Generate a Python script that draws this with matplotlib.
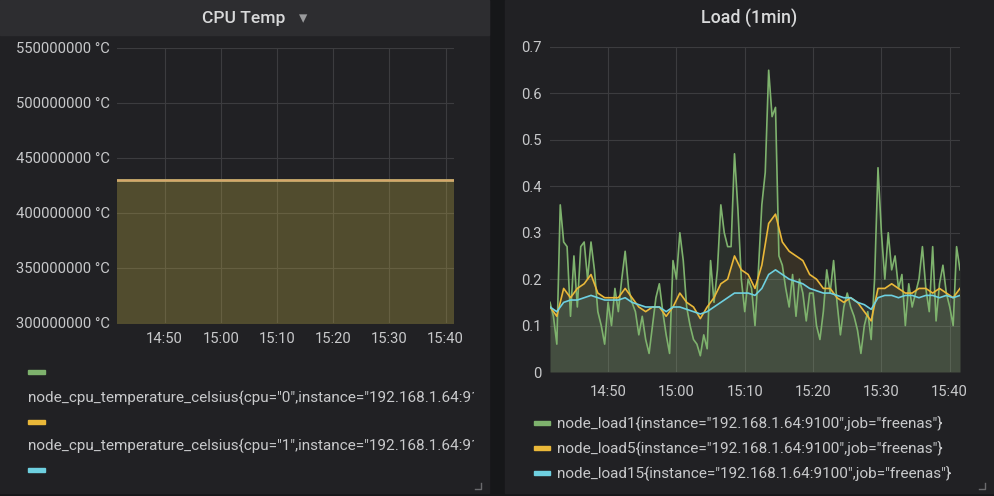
import numpy as np
import pandas as pd
import matplotlib
matplotlib.use("Agg")
import matplotlib.pyplot as plt
import matplotlib.dates as mdates
from matplotlib.patches import Rectangle
from matplotlib.ticker import FixedLocator, FuncFormatter

plt.rcParams['font.family'] = ['Roboto', 'DejaVu Sans']

# ---- data ----
t_start = "2019-01-01 14:41:30"
t_end = "2019-01-01 15:41:30"

# load1, one sample every 30 s from 14:41:30
load1 = [0.15, 0.12, 0.06, 0.36, 0.28, 0.27, 0.12, 0.25, 0.14, 0.27,
         0.28, 0.20, 0.28, 0.22, 0.13, 0.10, 0.06, 0.15, 0.10, 0.18,
         0.13, 0.20, 0.26, 0.18, 0.15, 0.13, 0.08, 0.12, 0.07, 0.04,
         0.10, 0.16, 0.19, 0.13, 0.08, 0.04, 0.24, 0.20, 0.30, 0.24,
         0.14, 0.10, 0.07, 0.06, 0.035, 0.08, 0.05, 0.24, 0.15, 0.22,
         0.36, 0.30, 0.27, 0.27, 0.47, 0.35, 0.20, 0.13, 0.20, 0.18,
         0.10, 0.22, 0.36, 0.43, 0.65, 0.55, 0.57, 0.25, 0.23, 0.18,
         0.14, 0.21, 0.12, 0.20, 0.17, 0.11, 0.17, 0.17, 0.10, 0.07,
         0.13, 0.22, 0.17, 0.24, 0.15, 0.08, 0.14, 0.17, 0.14, 0.12,
         0.09, 0.04, 0.10, 0.13, 0.07, 0.20, 0.44, 0.30, 0.20, 0.30,
         0.22, 0.25, 0.18, 0.21, 0.10, 0.19, 0.14, 0.17, 0.20, 0.27,
         0.18, 0.13, 0.27, 0.11, 0.19, 0.23, 0.17, 0.14, 0.10, 0.27,
         0.22]

# load5 / load15, one sample per minute from 14:41:30
load5 = [0.14, 0.12, 0.18, 0.16, 0.18, 0.19, 0.21, 0.17, 0.16, 0.16,
         0.16, 0.18, 0.16, 0.14, 0.13, 0.14, 0.14, 0.12, 0.14, 0.17,
         0.15, 0.14, 0.115, 0.14, 0.16, 0.19, 0.20, 0.25, 0.22, 0.21,
         0.18, 0.23, 0.32, 0.34, 0.28, 0.26, 0.25, 0.24, 0.21, 0.20,
         0.18, 0.18, 0.16, 0.15, 0.16, 0.15, 0.13, 0.11, 0.18, 0.18,
         0.19, 0.18, 0.17, 0.17, 0.18, 0.18, 0.17, 0.18, 0.17, 0.16,
         0.18]
load15 = [0.14, 0.13, 0.15, 0.155, 0.155, 0.16, 0.165, 0.16, 0.155, 0.155,
          0.155, 0.16, 0.15, 0.145, 0.14, 0.14, 0.14, 0.13, 0.14, 0.14,
          0.135, 0.13, 0.125, 0.13, 0.14, 0.15, 0.16, 0.17, 0.17, 0.17,
          0.165, 0.18, 0.21, 0.22, 0.21, 0.20, 0.195, 0.19, 0.18, 0.175,
          0.17, 0.17, 0.165, 0.16, 0.16, 0.15, 0.145, 0.135, 0.16, 0.165,
          0.165, 0.16, 0.165, 0.165, 0.16, 0.165, 0.165, 0.16, 0.165, 0.16,
          0.165]

cpu_temp0 = [430000000, 430000000]
cpu_temp1 = [430000000, 430000000]

cpu_labels = ['node_cpu_temperature_celsius{cpu="0",instance="192.168.1.64:9100",job="freenas"}',
              'node_cpu_temperature_celsius{cpu="1",instance="192.168.1.64:9100",job="freenas"}']
load_labels = ['node_load1{instance="192.168.1.64:9100",job="freenas"}',
               'node_load5{instance="192.168.1.64:9100",job="freenas"}',
               'node_load15{instance="192.168.1.64:9100",job="freenas"}']

cpu_yticks = [300000000, 350000000, 400000000, 450000000, 500000000, 550000000]
load_yticks = [0, 0.1, 0.2, 0.3, 0.4, 0.5, 0.6, 0.7]
xtick_labels = ["14:50", "15:00", "15:10", "15:20", "15:30", "15:40"]

t30 = mdates.date2num(pd.date_range(t_start, t_end, freq="30s").to_pydatetime())
t60 = mdates.date2num(pd.date_range(t_start, t_end, freq="60s").to_pydatetime())
t_cpu = mdates.date2num(pd.to_datetime([t_start, t_end]).to_pydatetime())
xticks = mdates.date2num(pd.to_datetime(["2019-01-01 " + s for s in xtick_labels]).to_pydatetime())

# ---- style ----
GREEN, YELLOW, CYAN = '#7eb26d', '#eab839', '#6ed0e0'
BG, PANEL, HEADER = '#161719', '#212124', '#2d2d30'
GRID, TXT = '#3c3c3f', '#c8c9cb'
W, H = 994, 496

fig = plt.figure(figsize=(W / 100, H / 100), dpi=100, facecolor=BG)


def rect(x0, y0, x1, y1):
    return [x0 / W, 1 - y1 / H, (x1 - x0) / W, (y1 - y0) / H]


# panels
for x0, y0, x1, y1, c in [(0, 0, 489, 493, PANEL), (0, 0, 489, 35, HEADER),
                          (505, 0, 994, 493, PANEL)]:
    fig.patches.append(Rectangle((x0 / W, 1 - y1 / H), (x1 - x0) / W, (y1 - y0) / H,
                                 transform=fig.transFigure, color=c, zorder=-5))

fig.text(244 / W, 1 - 19 / H, "CPU Temp", color='#d8d9da', fontsize=12.6,
         fontweight='medium', ha='center', va='center')
fig.text(303 / W, 1 - 18 / H, "\u25BE", color='#9a9b9d', fontsize=12,
         ha='center', va='center', family=['DejaVu Sans'])
fig.text(749 / W, 1 - 19 / H, "Load (1min)", color='#d8d9da', fontsize=12.8,
         fontweight='medium', ha='center', va='center')


def style_axes(ax):
    ax.set_facecolor('none')
    for s in ax.spines.values():
        s.set_visible(False)
    ax.grid(True, color=GRID, linewidth=0.8)
    ax.set_axisbelow(True)
    ax.tick_params(length=0, colors=TXT, labelsize=10.6)
    ax.xaxis.set_major_locator(FixedLocator(xticks))
    ax.xaxis.set_major_formatter(mdates.DateFormatter('%H:%M'))
    ax.set_xlim(t_cpu[0], t_cpu[1])


# CPU temp panel
ax1 = fig.add_axes(rect(117, 47.7, 454, 322.7))
style_axes(ax1)
ax1.fill_between(t_cpu, cpu_temp0, 0, color=GREEN, alpha=0.12, linewidth=0)
ax1.fill_between(t_cpu, cpu_temp1, 0, color=YELLOW, alpha=0.2, linewidth=0)
ax1.plot(t_cpu, cpu_temp0, color=GREEN, linewidth=1.8)
ax1.plot(t_cpu, cpu_temp1, color='#d6a66a', linewidth=1.8)
ax1.set_ylim(300000000, 550000000)
ax1.set_xlim(t_cpu[0], t_cpu[1])
ax1.yaxis.set_major_locator(FixedLocator(cpu_yticks))
ax1.yaxis.set_major_formatter(FuncFormatter(lambda v, p: f"{int(v)} \u00b0C"))
ax1.tick_params(axis='y', pad=5)
ax1.tick_params(axis='x', pad=7)

# Load panel
ax2 = fig.add_axes(rect(550, 47, 960, 372))
style_axes(ax2)
for t, v, c in [(t30, load1, GREEN), (t60, load5, YELLOW), (t60, load15, CYAN)]:
    ax2.fill_between(t, v, 0, color=c, alpha=0.11, linewidth=0)
for t, v, c in [(t30, load1, GREEN), (t60, load5, YELLOW), (t60, load15, CYAN)]:
    ax2.plot(t, v, color=c, linewidth=1.2)
ax2.set_ylim(0, 0.7)
ax2.set_xlim(t_cpu[0], t_cpu[1])
ax2.yaxis.set_major_locator(FixedLocator(load_yticks))
ax2.yaxis.set_major_formatter(FuncFormatter(lambda v, p: "0" if v == 0 else f"{v:.1f}"))
ax2.tick_params(axis='y', pad=6)
ax2.tick_params(axis='x', pad=9)

# legends
lg1 = fig.add_axes(rect(0, 355, 474, 493))
lg1.set_axis_off()
lg1.set_xlim(0, 474)
lg1.set_ylim(493, 355)
for y, c in [(372, GREEN), (422, YELLOW), (470, CYAN)]:
    lg1.add_patch(Rectangle((28, y - 2), 17, 4, color=c, clip_on=True))
for y, s in [(397, cpu_labels[0]), (445, cpu_labels[1])]:
    lg1.text(28, y, s, color=TXT, fontsize=11, va='center', ha='left', clip_on=True)

lg2 = fig.add_axes(rect(505, 410, 994, 493))
lg2.set_axis_off()
lg2.set_xlim(505, 994)
lg2.set_ylim(493, 410)
for y, c, s in zip([423, 448, 473], [GREEN, YELLOW, CYAN], load_labels):
    lg2.add_patch(Rectangle((534, y - 2), 16, 4, color=c))
    lg2.text(557, y, s, color=TXT, fontsize=11, va='center', ha='left')

# resize handles
for x in [481, 985]:
    fig.lines.append(plt.Line2D([(x - 6) / W, x / W, x / W],
                                [1 - 489 / H, 1 - 489 / H, 1 - 483 / H],
                                transform=fig.transFigure, color='#6a6a6d', linewidth=1))

fig.savefig("out.png", dpi=100, facecolor=BG)
